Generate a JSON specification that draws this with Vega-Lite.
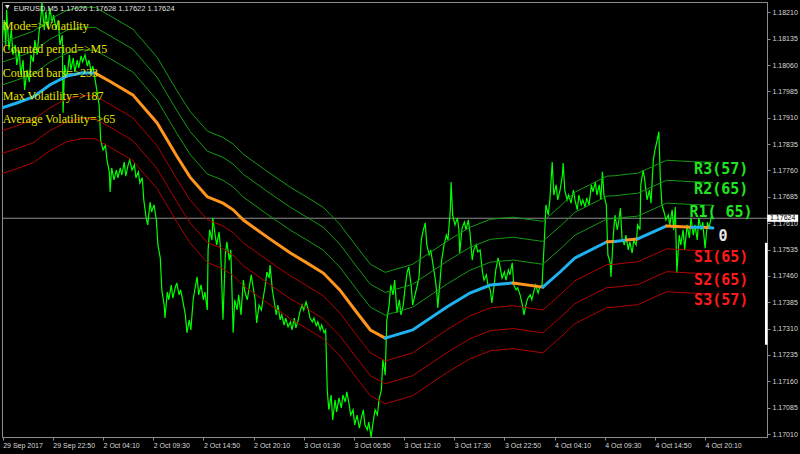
{
"$schema":"https://vega.github.io/schema/vega-lite/v6.json",
"width":765,"height":435,
"autosize":{"type":"none"},
"padding":{"left":2,"top":2,"right":33,"bottom":17},
"background":"#000000",
"config":{"view":{"stroke":"#8c8c8c","strokeWidth":1},
"axis":{"domainColor":"#8c8c8c","tickColor":"#8c8c8c","tickSize":3,"labelColor":"#d8d8d8","labelFont":"Liberation Sans","labelFontSize":7,"grid":false,"labelOverlap":false}},
"resolve":{"scale":{"color":"independent"}},
"datasets":{
"price":[{"b":-1,"p":1.18131},{"b":2,"p":1.18188},{"b":4,"p":1.18117},{"b":5,"p":1.18217},{"b":8,"p":1.18103},{"b":11,"p":1.18160},{"b":13,"p":1.18089},{"b":16,"p":1.18117},{"b":18,"p":1.18060},{"b":21,"p":1.18103},{"b":23,"p":1.18032},{"b":26,"p":1.18074},{"b":28,"p":1.17989},{"b":31,"p":1.18046},{"b":34,"p":1.18012},{"b":36,"p":1.18089},{"b":39,"p":1.18069},{"b":41,"p":1.18131},{"b":44,"p":1.18089},{"b":46,"p":1.18145},{"b":49,"p":1.18202},{"b":50,"p":1.18238},{"b":53,"p":1.18160},{"b":55,"p":1.18211},{"b":58,"p":1.18165},{"b":60,"p":1.18222},{"b":63,"p":1.18182},{"b":65,"p":1.18202},{"b":68,"p":1.18160},{"b":71,"p":1.18188},{"b":73,"p":1.18117},{"b":76,"p":1.18145},{"b":77,"p":1.17924},{"b":79,"p":1.18060},{"b":82,"p":1.18023},{"b":85,"p":1.18089},{"b":87,"p":1.18046},{"b":90,"p":1.18080},{"b":92,"p":1.18040},{"b":95,"p":1.18074},{"b":97,"p":1.18052},{"b":100,"p":1.18086},{"b":102,"p":1.18069},{"b":105,"p":1.18089},{"b":108,"p":1.18057},{"b":110,"p":1.18074},{"b":113,"p":1.18040},{"b":115,"p":1.18057},{"b":118,"p":1.18017},{"b":120,"p":1.17989},{"b":123,"p":1.17946},{"b":125,"p":1.17847},{"b":128,"p":1.17818},{"b":131,"p":1.17832},{"b":133,"p":1.17790},{"b":136,"p":1.17756},{"b":137,"p":1.17699},{"b":139,"p":1.17767},{"b":142,"p":1.17733},{"b":145,"p":1.17761},{"b":147,"p":1.17739},{"b":150,"p":1.17767},{"b":152,"p":1.17747},{"b":155,"p":1.17784},{"b":157,"p":1.17744},{"b":160,"p":1.17776},{"b":162,"p":1.17790},{"b":165,"p":1.17761},{"b":168,"p":1.17776},{"b":170,"p":1.17739},{"b":173,"p":1.17756},{"b":175,"p":1.17724},{"b":178,"p":1.17739},{"b":180,"p":1.17676},{"b":183,"p":1.17625},{"b":185,"p":1.17605},{"b":188,"p":1.17670},{"b":190,"p":1.17642},{"b":193,"p":1.17662},{"b":196,"p":1.17619},{"b":198,"p":1.17548},{"b":201,"p":1.17511},{"b":203,"p":1.17420},{"b":206,"p":1.17377},{"b":207,"p":1.17340},{"b":210,"p":1.17414},{"b":212,"p":1.17392},{"b":215,"p":1.17434},{"b":217,"p":1.17397},{"b":220,"p":1.17426},{"b":222,"p":1.17440},{"b":225,"p":1.17406},{"b":227,"p":1.17420},{"b":230,"p":1.17386},{"b":233,"p":1.17349},{"b":235,"p":1.17298},{"b":238,"p":1.17335},{"b":240,"p":1.17306},{"b":243,"p":1.17392},{"b":245,"p":1.17420},{"b":248,"p":1.17457},{"b":250,"p":1.17406},{"b":253,"p":1.17434},{"b":256,"p":1.17392},{"b":258,"p":1.17414},{"b":261,"p":1.17363},{"b":262,"p":1.17534},{"b":264,"p":1.17591},{"b":267,"p":1.17562},{"b":268,"p":1.17625},{"b":271,"p":1.17576},{"b":273,"p":1.17548},{"b":276,"p":1.17585},{"b":278,"p":1.17534},{"b":281,"p":1.17335},{"b":284,"p":1.17520},{"b":286,"p":1.17557},{"b":289,"p":1.17505},{"b":291,"p":1.17534},{"b":294,"p":1.17298},{"b":296,"p":1.17392},{"b":299,"p":1.17363},{"b":301,"p":1.17406},{"b":304,"p":1.17349},{"b":307,"p":1.17448},{"b":309,"p":1.17414},{"b":312,"p":1.17392},{"b":314,"p":1.17420},{"b":317,"p":1.17463},{"b":319,"p":1.17434},{"b":322,"p":1.17392},{"b":324,"p":1.17326},{"b":327,"p":1.17377},{"b":330,"p":1.17363},{"b":332,"p":1.17392},{"b":335,"p":1.17434},{"b":337,"p":1.17471},{"b":340,"p":1.17454},{"b":341,"p":1.17491},{"b":344,"p":1.17420},{"b":346,"p":1.17392},{"b":349,"p":1.17349},{"b":351,"p":1.17377},{"b":354,"p":1.17335},{"b":356,"p":1.17349},{"b":359,"p":1.17320},{"b":361,"p":1.17340},{"b":364,"p":1.17315},{"b":367,"p":1.17329},{"b":369,"p":1.17306},{"b":372,"p":1.17340},{"b":374,"p":1.17312},{"b":377,"p":1.17335},{"b":379,"p":1.17357},{"b":382,"p":1.17377},{"b":384,"p":1.17363},{"b":387,"p":1.17386},{"b":390,"p":1.17363},{"b":392,"p":1.17340},{"b":395,"p":1.17329},{"b":397,"p":1.17340},{"b":400,"p":1.17318},{"b":402,"p":1.17329},{"b":405,"p":1.17306},{"b":407,"p":1.17320},{"b":410,"p":1.17298},{"b":412,"p":1.17306},{"b":414,"p":1.17135},{"b":416,"p":1.17079},{"b":419,"p":1.17121},{"b":421,"p":1.17050},{"b":424,"p":1.17107},{"b":426,"p":1.17073},{"b":429,"p":1.17113},{"b":432,"p":1.17084},{"b":434,"p":1.17121},{"b":437,"p":1.17101},{"b":439,"p":1.17130},{"b":442,"p":1.17093},{"b":444,"p":1.17064},{"b":447,"p":1.17079},{"b":449,"p":1.17036},{"b":452,"p":1.17064},{"b":455,"p":1.17027},{"b":457,"p":1.17050},{"b":460,"p":1.17079},{"b":462,"p":1.17036},{"b":465,"p":1.17022},{"b":467,"p":1.17044},{"b":470,"p":1.17002},{"b":472,"p":1.17036},{"b":475,"p":1.17079},{"b":478,"p":1.17064},{"b":480,"p":1.17107},{"b":483,"p":1.17135},{"b":485,"p":1.17221},{"b":488,"p":1.17178},{"b":490,"p":1.17335},{"b":493,"p":1.17377},{"b":495,"p":1.17434},{"b":498,"p":1.17406},{"b":500,"p":1.17448},{"b":503,"p":1.17355},{"b":506,"p":1.17392},{"b":508,"p":1.17349},{"b":511,"p":1.17377},{"b":513,"p":1.17420},{"b":516,"p":1.17471},{"b":518,"p":1.17485},{"b":521,"p":1.17434},{"b":523,"p":1.17377},{"b":526,"p":1.17406},{"b":529,"p":1.17434},{"b":531,"p":1.17454},{"b":534,"p":1.17562},{"b":536,"p":1.17585},{"b":539,"p":1.17611},{"b":541,"p":1.17548},{"b":544,"p":1.17520},{"b":546,"p":1.17534},{"b":549,"p":1.17491},{"b":552,"p":1.17448},{"b":554,"p":1.17406},{"b":555,"p":1.17369},{"b":558,"p":1.17448},{"b":560,"p":1.17505},{"b":563,"p":1.17548},{"b":566,"p":1.17576},{"b":568,"p":1.17562},{"b":571,"p":1.17648},{"b":572,"p":1.17727},{"b":574,"p":1.17633},{"b":577,"p":1.17605},{"b":580,"p":1.17625},{"b":582,"p":1.17591},{"b":583,"p":1.17525},{"b":586,"p":1.17596},{"b":589,"p":1.17613},{"b":591,"p":1.17591},{"b":594,"p":1.17619},{"b":596,"p":1.17585},{"b":599,"p":1.17505},{"b":601,"p":1.17534},{"b":604,"p":1.17548},{"b":606,"p":1.17528},{"b":609,"p":1.17534},{"b":612,"p":1.17471},{"b":614,"p":1.17448},{"b":617,"p":1.17463},{"b":619,"p":1.17434},{"b":622,"p":1.17420},{"b":624,"p":1.17383},{"b":627,"p":1.17434},{"b":629,"p":1.17477},{"b":632,"p":1.17511},{"b":634,"p":1.17491},{"b":637,"p":1.17454},{"b":640,"p":1.17471},{"b":642,"p":1.17448},{"b":645,"p":1.17477},{"b":647,"p":1.17463},{"b":650,"p":1.17497},{"b":652,"p":1.17434},{"b":655,"p":1.17420},{"b":657,"p":1.17426},{"b":660,"p":1.17406},{"b":663,"p":1.17377},{"b":665,"p":1.17349},{"b":668,"p":1.17383},{"b":670,"p":1.17397},{"b":673,"p":1.17406},{"b":675,"p":1.17392},{"b":678,"p":1.17420},{"b":680,"p":1.17434},{"b":683,"p":1.17411},{"b":685,"p":1.17426},{"b":688,"p":1.17434},{"b":691,"p":1.17562},{"b":693,"p":1.17662},{"b":696,"p":1.17633},{"b":698,"p":1.17676},{"b":701,"p":1.17784},{"b":703,"p":1.17690},{"b":706,"p":1.17719},{"b":708,"p":1.17676},{"b":711,"p":1.17704},{"b":714,"p":1.17747},{"b":715,"p":1.17781},{"b":717,"p":1.17704},{"b":720,"p":1.17676},{"b":722,"p":1.17690},{"b":725,"p":1.17667},{"b":728,"p":1.17704},{"b":730,"p":1.17676},{"b":733,"p":1.17648},{"b":735,"p":1.17690},{"b":738,"p":1.17662},{"b":740,"p":1.17676},{"b":743,"p":1.17656},{"b":745,"p":1.17682},{"b":748,"p":1.17662},{"b":751,"p":1.17719},{"b":753,"p":1.17699},{"b":756,"p":1.17727},{"b":758,"p":1.17690},{"b":761,"p":1.17719},{"b":763,"p":1.17676},{"b":765,"p":1.17756},{"b":767,"p":1.17690},{"b":770,"p":1.17662},{"b":772,"p":1.17520},{"b":775,"p":1.17497},{"b":776,"p":1.17457},{"b":779,"p":1.17576},{"b":781,"p":1.17633},{"b":784,"p":1.17591},{"b":786,"p":1.17619},{"b":788,"p":1.17653},{"b":790,"p":1.17568},{"b":793,"p":1.17548},{"b":795,"p":1.17576},{"b":798,"p":1.17534},{"b":800,"p":1.17557},{"b":803,"p":1.17525},{"b":805,"p":1.17562},{"b":808,"p":1.17548},{"b":810,"p":1.17605},{"b":813,"p":1.17591},{"b":814,"p":1.17719},{"b":817,"p":1.17761},{"b":819,"p":1.17733},{"b":822,"p":1.17676},{"b":825,"p":1.17704},{"b":827,"p":1.17667},{"b":830,"p":1.17790},{"b":832,"p":1.17818},{"b":835,"p":1.17847},{"b":837,"p":1.17870},{"b":839,"p":1.17733},{"b":841,"p":1.17662},{"b":844,"p":1.17639},{"b":846,"p":1.17619},{"b":849,"p":1.17633},{"b":851,"p":1.17605},{"b":854,"p":1.17648},{"b":856,"p":1.17591},{"b":858,"p":1.17656},{"b":860,"p":1.17468},{"b":863,"p":1.17576},{"b":865,"p":1.17548},{"b":868,"p":1.17591},{"b":870,"p":1.17534},{"b":873,"p":1.17605},{"b":876,"p":1.17568},{"b":878,"p":1.17625},{"b":881,"p":1.17576},{"b":883,"p":1.17605},{"b":886,"p":1.17562},{"b":888,"p":1.17625},{"b":891,"p":1.17591},{"b":893,"p":1.17613},{"b":896,"p":1.17539},{"b":899,"p":1.17613},{"b":901,"p":1.17596},{"b":904,"p":1.17628},{"b":906,"p":1.17624}],
"mid":[{"b":-1,"p":1.17938,"seg":1,"t":"up"},{"b":18,"p":1.17952,"seg":1,"t":"up"},{"b":39,"p":1.17969,"seg":1,"t":"up"},{"b":60,"p":1.18003,"seg":1,"t":"up"},{"b":82,"p":1.18029,"seg":1,"t":"up"},{"b":102,"p":1.18038,"seg":1,"t":"up"},{"b":118,"p":1.18037,"seg":1,"t":"up"},
{"b":118,"p":1.18037,"seg":2,"t":"down"},{"b":137,"p":1.18013,"seg":2,"t":"down"},{"b":166,"p":1.17975,"seg":2,"t":"down"},{"b":197,"p":1.17895,"seg":2,"t":"down"},{"b":222,"p":1.17801,"seg":2,"t":"down"},{"b":239,"p":1.17741,"seg":2,"t":"down"},{"b":261,"p":1.17685,"seg":2,"t":"down"},{"b":281,"p":1.17667,"seg":2,"t":"down"},{"b":294,"p":1.17648,"seg":2,"t":"down"},{"b":307,"p":1.17619,"seg":2,"t":"down"},{"b":337,"p":1.17571,"seg":2,"t":"down"},{"b":367,"p":1.17525,"seg":2,"t":"down"},{"b":388,"p":1.17497,"seg":2,"t":"down"},{"b":409,"p":1.17468,"seg":2,"t":"down"},{"b":430,"p":1.17420,"seg":2,"t":"down"},{"b":452,"p":1.17355,"seg":2,"t":"down"},{"b":469,"p":1.17306,"seg":2,"t":"down"},{"b":488,"p":1.17283,"seg":2,"t":"down"},
{"b":488,"p":1.17283,"seg":3,"t":"up"},{"b":523,"p":1.17306,"seg":3,"t":"up"},{"b":567,"p":1.17372,"seg":3,"t":"up"},{"b":596,"p":1.17411,"seg":3,"t":"up"},{"b":622,"p":1.17434,"seg":3,"t":"up"},{"b":651,"p":1.17440,"seg":3,"t":"up"},
{"b":651,"p":1.17440,"seg":4,"t":"down"},{"b":689,"p":1.17428,"seg":4,"t":"down"},
{"b":689,"p":1.17428,"seg":5,"t":"up"},{"b":711,"p":1.17471,"seg":5,"t":"up"},{"b":730,"p":1.17511,"seg":5,"t":"up"},{"b":771,"p":1.17557,"seg":5,"t":"up"},
{"b":771,"p":1.17557,"seg":6,"t":"down"},{"b":781,"p":1.17558,"seg":6,"t":"down"},
{"b":781,"p":1.17558,"seg":7,"t":"up"},{"b":796,"p":1.17562,"seg":7,"t":"up"},
{"b":796,"p":1.17562,"seg":8,"t":"down"},{"b":810,"p":1.17565,"seg":8,"t":"down"},
{"b":810,"p":1.17565,"seg":9,"t":"up"},{"b":847,"p":1.17602,"seg":9,"t":"up"},
{"b":847,"p":1.17602,"seg":10,"t":"down"},{"b":879,"p":1.17598,"seg":10,"t":"down"},
{"b":879,"p":1.17598,"seg":11,"t":"up"},{"b":896,"p":1.17598,"seg":11,"t":"up"},
{"b":896,"p":1.17598,"seg":12,"t":"down"},{"b":902,"p":1.17597,"seg":12,"t":"down"},
{"b":902,"p":1.17597,"seg":13,"t":"up"},{"b":906,"p":1.17596,"seg":13,"t":"up"}],
"bands":[{"b":-1,"r3":1.18125,"r2":1.18068,"r1":1.18003,"s1":1.17873,"s2":1.17808,"s3":1.17751},{"b":18,"r3":1.18139,"r2":1.18082,"r1":1.18017,"s1":1.17887,"s2":1.17822,"s3":1.17765},{"b":39,"r3":1.18156,"r2":1.18099,"r1":1.18034,"s1":1.17904,"s2":1.17839,"s3":1.17782},{"b":60,"r3":1.18190,"r2":1.18133,"r1":1.18068,"s1":1.17938,"s2":1.17873,"s3":1.17816},{"b":82,"r3":1.18216,"r2":1.18159,"r1":1.18094,"s1":1.17964,"s2":1.17899,"s3":1.17842},{"b":102,"r3":1.18225,"r2":1.18168,"r1":1.18103,"s1":1.17973,"s2":1.17908,"s3":1.17851},{"b":118,"r3":1.18224,"r2":1.18167,"r1":1.18102,"s1":1.17972,"s2":1.17907,"s3":1.17850},{"b":137,"r3":1.18200,"r2":1.18143,"r1":1.18078,"s1":1.17948,"s2":1.17883,"s3":1.17826},{"b":166,"r3":1.18162,"r2":1.18105,"r1":1.18040,"s1":1.17910,"s2":1.17845,"s3":1.17788},{"b":197,"r3":1.18082,"r2":1.18025,"r1":1.17960,"s1":1.17830,"s2":1.17765,"s3":1.17708},{"b":222,"r3":1.17988,"r2":1.17931,"r1":1.17866,"s1":1.17736,"s2":1.17671,"s3":1.17614},{"b":239,"r3":1.17928,"r2":1.17871,"r1":1.17806,"s1":1.17676,"s2":1.17611,"s3":1.17554},{"b":261,"r3":1.17872,"r2":1.17815,"r1":1.17750,"s1":1.17620,"s2":1.17555,"s3":1.17498},{"b":281,"r3":1.17854,"r2":1.17797,"r1":1.17732,"s1":1.17602,"s2":1.17537,"s3":1.17480},{"b":294,"r3":1.17835,"r2":1.17778,"r1":1.17713,"s1":1.17583,"s2":1.17518,"s3":1.17461},{"b":307,"r3":1.17806,"r2":1.17749,"r1":1.17684,"s1":1.17554,"s2":1.17489,"s3":1.17432},{"b":337,"r3":1.17758,"r2":1.17701,"r1":1.17636,"s1":1.17506,"s2":1.17441,"s3":1.17384},{"b":367,"r3":1.17712,"r2":1.17655,"r1":1.17590,"s1":1.17460,"s2":1.17395,"s3":1.17338},{"b":388,"r3":1.17684,"r2":1.17627,"r1":1.17562,"s1":1.17432,"s2":1.17367,"s3":1.17310},{"b":409,"r3":1.17655,"r2":1.17598,"r1":1.17533,"s1":1.17403,"s2":1.17338,"s3":1.17281},{"b":430,"r3":1.17607,"r2":1.17550,"r1":1.17485,"s1":1.17355,"s2":1.17290,"s3":1.17233},{"b":452,"r3":1.17542,"r2":1.17485,"r1":1.17420,"s1":1.17290,"s2":1.17225,"s3":1.17168},{"b":469,"r3":1.17493,"r2":1.17436,"r1":1.17371,"s1":1.17241,"s2":1.17176,"s3":1.17119},{"b":488,"r3":1.17470,"r2":1.17413,"r1":1.17348,"s1":1.17218,"s2":1.17153,"s3":1.17096},{"b":523,"r3":1.17493,"r2":1.17436,"r1":1.17371,"s1":1.17241,"s2":1.17176,"s3":1.17119},{"b":567,"r3":1.17559,"r2":1.17502,"r1":1.17437,"s1":1.17307,"s2":1.17242,"s3":1.17185},{"b":596,"r3":1.17598,"r2":1.17541,"r1":1.17476,"s1":1.17346,"s2":1.17281,"s3":1.17224},{"b":622,"r3":1.17621,"r2":1.17564,"r1":1.17499,"s1":1.17369,"s2":1.17304,"s3":1.17247},{"b":651,"r3":1.17627,"r2":1.17570,"r1":1.17505,"s1":1.17375,"s2":1.17310,"s3":1.17253},{"b":689,"r3":1.17615,"r2":1.17558,"r1":1.17493,"s1":1.17363,"s2":1.17298,"s3":1.17241},{"b":711,"r3":1.17658,"r2":1.17601,"r1":1.17536,"s1":1.17406,"s2":1.17341,"s3":1.17284},{"b":730,"r3":1.17698,"r2":1.17641,"r1":1.17576,"s1":1.17446,"s2":1.17381,"s3":1.17324},{"b":771,"r3":1.17744,"r2":1.17687,"r1":1.17622,"s1":1.17492,"s2":1.17427,"s3":1.17370},{"b":781,"r3":1.17745,"r2":1.17688,"r1":1.17623,"s1":1.17493,"s2":1.17428,"s3":1.17371},{"b":796,"r3":1.17749,"r2":1.17692,"r1":1.17627,"s1":1.17497,"s2":1.17432,"s3":1.17375},{"b":810,"r3":1.17752,"r2":1.17695,"r1":1.17630,"s1":1.17500,"s2":1.17435,"s3":1.17378},{"b":847,"r3":1.17789,"r2":1.17732,"r1":1.17667,"s1":1.17537,"s2":1.17472,"s3":1.17415},{"b":879,"r3":1.17785,"r2":1.17728,"r1":1.17663,"s1":1.17533,"s2":1.17468,"s3":1.17411},{"b":906,"r3":1.17783,"r2":1.17726,"r1":1.17661,"s1":1.17531,"s2":1.17466,"s3":1.17409}],
"labels":[{"b":882,"p":1.17785,"label":"R3(57)","grp":"res"},{"b":882,"p":1.17728,"label":"R2(65)","grp":"res"},{"b":876,"p":1.17663,"label":"R1( 65)","grp":"res"},{"b":913,"p":1.17594,"label":"0","grp":"mid"},{"b":882,"p":1.17533,"label":"S1(65)","grp":"sup"},{"b":882,"p":1.17468,"label":"S2(65)","grp":"sup"},{"b":882,"p":1.17411,"label":"S3(57)","grp":"sup"}],
"info":[{"b":0,"p":1.18160,"text":"Mode=>Volatility"},{"b":0,"p":1.18093,"text":"Counted period=>M5"},{"b":0,"p":1.18027,"text":"Counted bars=>233"},{"b":0,"p":1.17960,"text":"Max Volatility=>187"},{"b":0,"p":1.17894,"text":"Average Volatility=>65"}],
"hdr":[{"b":14,"p":1.18215,"text":"EURUSD,M5  1.17626 1.17628 1.17622 1.17624"}],
"tri":[{"b":6,"p":1.18225}],
"last":[{"p":1.17624,"label":"1.17624"}],
"bar":[{"hi":1.17554,"lo":1.17264}]
},
"layer":[
{"data":{"name":"last"},"mark":{"type":"rule","color":"#8c8c8c","strokeWidth":1},
"encoding":{"y":{"field":"p","type":"quantitative","scale":{"domain":[1.170015,1.182393],"nice":false,"zero":false}}}},
{"data":{"name":"price"},"mark":{"type":"line","color":"#00ff00","strokeWidth":1.2,"clip":true},
"encoding":{"x":{"field":"b","type":"quantitative","scale":{"domain":[-0.9,975],"nice":false,"zero":false},
"axis":{"orient":"bottom","title":null,"tickCount":30,"values":[0,64,128,192,256,320,384,448,512,576,640,704,768,832,896],"labelExpr":"['29 Sep 2017','29 Sep 22:50','2 Oct 04:10','2 Oct 09:30','2 Oct 14:50','2 Oct 20:10','3 Oct 01:30','3 Oct 06:50','3 Oct 12:10','3 Oct 17:30','3 Oct 22:50','4 Oct 04:10','4 Oct 09:30','4 Oct 14:50','4 Oct 20:10'][round(datum.value/64)]","labelAlign":"left","labelBaseline":"top","labelPadding":1,"labelFlush":false,"labelOverlap":false,"labelBound":false}},
"y":{"field":"p","type":"quantitative",
"axis":{"orient":"right","title":null,"tickCount":30,"values":[1.1701,1.17085,1.1716,1.17235,1.1731,1.17385,1.1746,1.17535,1.1761,1.17685,1.1776,1.17835,1.1791,1.17985,1.1806,1.18135,1.1821],"format":".5f","labelAlign":"left","labelBaseline":"middle","labelPadding":2,"labelFlush":false,"labelOverlap":false,"labelBound":false}}}},
{"data":{"name":"bands"},"transform":[{"fold":["r3","r2","r1","s1","s2","s3"],"as":["band","v"]}],
"mark":{"type":"line","strokeWidth":1,"clip":true},
"encoding":{"x":{"field":"b","type":"quantitative"},"y":{"field":"v","type":"quantitative"},
"color":{"field":"band","type":"nominal","scale":{"domain":["r3","r2","r1","s1","s2","s3"],"range":["#149a14","#149a14","#149a14","#b00000","#b00000","#b00000"]},"legend":null}}},
{"data":{"name":"mid"},"mark":{"type":"line","strokeWidth":3,"strokeCap":"round","clip":true},
"encoding":{"x":{"field":"b","type":"quantitative"},"y":{"field":"p","type":"quantitative"},
"detail":{"field":"seg","type":"nominal"},
"color":{"field":"t","type":"nominal","scale":{"domain":["up","down"],"range":["#1fb2f0","#ff951c"]},"legend":null}}},
{"data":{"name":"bar"},"mark":{"type":"rule","color":"#ffffff","strokeWidth":2.5},
"encoding":{"x":{"datum":974,"type":"quantitative"},"y":{"field":"hi","type":"quantitative"},"y2":{"field":"lo"}}},
{"data":{"name":"last"},"mark":{"type":"point","shape":"M-1,-0.23L1,-0.23L1,0.23L-1,0.23Z","size":961,"filled":true,"color":"#ffffff","opacity":1},
"encoding":{"x":{"datum":995,"type":"quantitative"},"y":{"field":"p","type":"quantitative"}}},
{"data":{"name":"last"},"mark":{"type":"text","color":"#000000","font":"Liberation Sans","fontSize":7,"align":"center","baseline":"middle"},
"encoding":{"x":{"datum":995,"type":"quantitative"},"y":{"field":"p","type":"quantitative"},"text":{"field":"label"}}},
{"data":{"name":"labels"},"mark":{"type":"text","align":"left","baseline":"top","font":"DejaVu Sans Mono","fontSize":15,"fontWeight":"bold"},
"encoding":{"x":{"field":"b","type":"quantitative"},"y":{"field":"p","type":"quantitative"},"text":{"field":"label"},
"color":{"field":"grp","type":"nominal","scale":{"domain":["res","mid","sup"],"range":["#1fe61f","#e8e8e8","#ff1a1a"]},"legend":null}}},
{"data":{"name":"info"},"mark":{"type":"text","align":"left","baseline":"alphabetic","font":"Liberation Serif","fontSize":12,"color":"#e6e600"},
"encoding":{"x":{"field":"b","type":"quantitative"},"y":{"field":"p","type":"quantitative"},"text":{"field":"text"}}},
{"data":{"name":"hdr"},"mark":{"type":"text","align":"left","baseline":"alphabetic","font":"Liberation Sans","fontSize":7.5,"color":"#e0e0e0"},
"encoding":{"x":{"field":"b","type":"quantitative"},"y":{"field":"p","type":"quantitative"},"text":{"field":"text"}}},
{"data":{"name":"tri"},"mark":{"type":"point","shape":"triangle-down","size":22,"filled":true,"color":"#e0e0e0","opacity":1},
"encoding":{"x":{"field":"b","type":"quantitative"},"y":{"field":"p","type":"quantitative"}}}
]
}
